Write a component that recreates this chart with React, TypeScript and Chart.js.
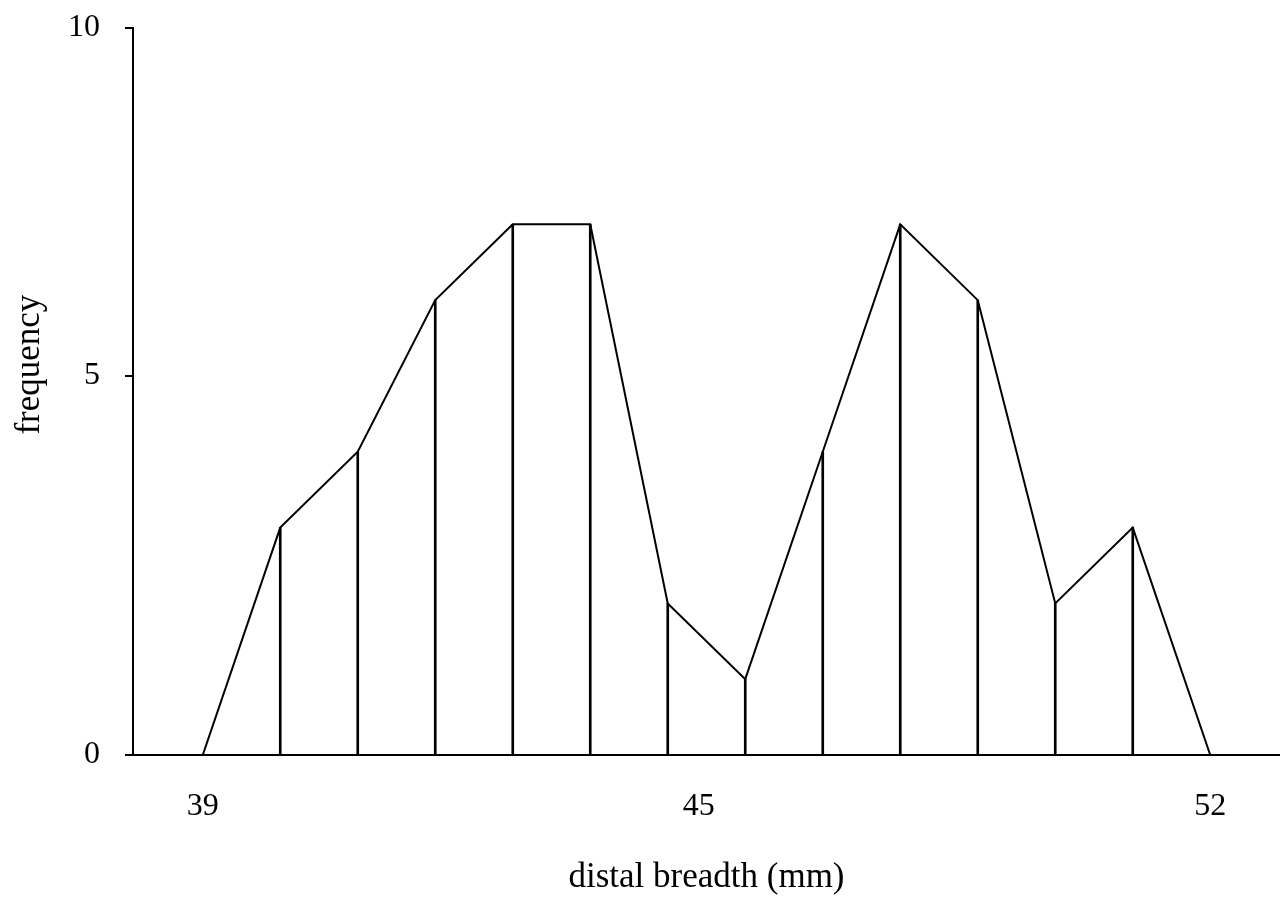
import { useEffect, useRef } from "react";
import { Chart, registerables } from "chart.js";

Chart.register(...registerables);

// distal breadth (mm) classes and their frequencies
const breadthMm = [39, 40, 41, 42, 43, 44, 45, 46, 47, 48, 49, 50, 51, 52];
const frequency = [0, 3, 4, 6, 7, 7, 2, 1, 4, 7, 6, 2, 3, 0];

// axis tick marks as printed on the figure
const xTickValues = [39, 45.4, 52];
const xTickLabels = ["39", "45", "52"];
const yTickValues = [0, 5, 9.59];
const yTickLabels = ["0", "5", "10"];

const xTitle = "distal breadth (mm)";
const yTitle = "frequency";

const xMin = 38.1;
const xMax = 52.9;
const yMin = 0;
const yMax = 9.59;

const FONT = "'Liberation Serif', 'Times New Roman', serif";

// draws the rotated y-axis title slightly above the chart-area centre, as in the figure
const yTitlePlugin = {
  id: "yTitleSerif",
  afterDraw(chart: any) {
    const { ctx, chartArea } = chart;
    ctx.save();
    ctx.font = `35px ${FONT}`;
    ctx.fillStyle = "#000";
    ctx.textAlign = "center";
    ctx.textBaseline = "middle";
    ctx.translate(30, chartArea.top + (chartArea.bottom - chartArea.top) * 0.463);
    ctx.rotate(-Math.PI / 2);
    ctx.fillText(yTitle, 0, 0);
    ctx.restore();
  },
};

export default function App() {
  const canvasRef = useRef<HTMLCanvasElement | null>(null);

  useEffect(() => {
    const canvas = canvasRef.current;
    if (!canvas) return;
    const points = breadthMm.map((x, i) => ({ x, y: frequency[i] }));

    const chart = new Chart(canvas, {
      data: {
        datasets: [
          {
            type: "line",
            data: points,
            borderColor: "#000",
            borderWidth: 2,
            pointRadius: 0,
            tension: 0,
            fill: false,
          },
          {
            type: "bar",
            data: points,
            backgroundColor: "#000",
            borderWidth: 0,
            barThickness: 2,
          },
        ],
      },
      plugins: [yTitlePlugin],
      options: {
        responsive: false,
        animation: false,
        layout: { padding: { top: 28, right: 0, bottom: 0, left: 0 } },
        plugins: {
          legend: { display: false },
          tooltip: { enabled: false },
        },
        scales: {
          x: {
            type: "linear",
            min: xMin,
            max: xMax,
            offset: false,
            afterFit: (scale: any) => {
              scale.height = 144;
            },
            afterBuildTicks: (scale: any) => {
              scale.ticks = xTickValues.map((v) => ({ value: v }));
            },
            ticks: {
              color: "#000",
              padding: 32,
              maxRotation: 0,
              font: { family: FONT, size: 32 },
              callback: (_v: any, i: number) => xTickLabels[i],
            },
            grid: { display: false, drawTicks: false, offset: false },
            border: { display: true, color: "#000", width: 2 },
            title: {
              display: true,
              text: xTitle,
              color: "#000",
              font: { family: FONT, size: 35 },
              padding: { top: 0, bottom: 0 },
            },
          },
          y: {
            type: "linear",
            min: yMin,
            max: yMax,
            afterFit: (scale: any) => {
              scale.width = 133;
              scale.paddingTop = 0;
              scale.paddingBottom = 0;
            },
            afterBuildTicks: (scale: any) => {
              scale.ticks = yTickValues.map((v) => ({ value: v }));
            },
            ticks: {
              color: "#000",
              padding: 25,
              font: { family: FONT, size: 32 },
              callback: (_v: any, i: number) => yTickLabels[i],
            },
            grid: {
              display: true,
              drawOnChartArea: false,
              drawTicks: true,
              tickLength: 8,
              color: "#000",
              lineWidth: 2,
            },
            border: { display: true, color: "#000", width: 2 },
            title: { display: false },
          },
        },
      },
    } as any);

    return () => chart.destroy();
  }, []);

  return (
    <div style={{ position: "fixed", left: 0, top: 0, width: 1280, height: 899, background: "#fff" }}>
      <canvas ref={canvasRef} width={1280} height={899} />
    </div>
  );
}
